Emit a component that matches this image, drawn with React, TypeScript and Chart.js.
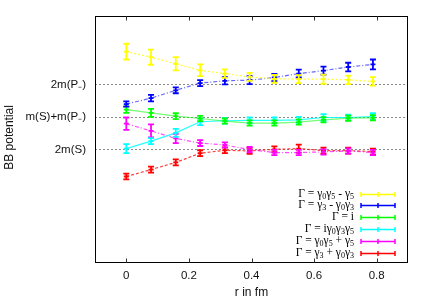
import React, { useEffect, useRef } from "react";
import { Chart, registerables } from "chart.js";

Chart.register(...registerables);

const rValues = [0, 0.079, 0.158, 0.236, 0.315, 0.394, 0.473, 0.551, 0.63, 0.709, 0.788];

const seriesLabels = [
  "Γ = γ_0γ_5 - γ_5",
  "Γ = γ_3 - γ_0γ_3",
  "Γ = i",
  "Γ = iγ_0γ_3γ_5",
  "Γ = γ_0γ_5 + γ_5",
  "Γ = γ_3 + γ_0γ_3",
];
const seriesColors = ["#ffff00", "#0000ff", "#00ff00", "#00ffff", "#ff00ff", "#ff0000"];
const lineColors = [
  "rgba(255,255,0,0.8)",
  "rgba(0,0,255,0.6)",
  "rgba(0,255,0,0.55)",
  "rgba(0,255,255,0.85)",
  "rgba(255,0,255,0.7)",
  "rgba(255,0,0,0.75)",
];
const lineDashes = [[2, 2], [4, 2, 1, 2], [], [], [4, 2, 1, 2], [3, 2]];

const yellowValues = [3.0, 2.83, 2.63, 2.43, 2.33, 2.23, 2.17, 2.16, 2.16, 2.14, 2.09];
const yellowErrors = [0.24, 0.23, 0.2, 0.18, 0.13, 0.12, 0.12, 0.12, 0.14, 0.13, 0.13];
const blueValues = [1.4, 1.58, 1.82, 2.04, 2.11, 2.13, 2.21, 2.33, 2.42, 2.53, 2.61];
const blueErrors = [0.08, 0.1, 0.09, 0.09, 0.11, 0.12, 0.11, 0.12, 0.12, 0.13, 0.15];
const greenValues = [1.23, 1.13, 1.03, 0.96, 0.88, 0.82, 0.82, 0.85, 0.92, 0.97, 0.98];
const greenErrors = [0.1, 0.12, 0.09, 0.08, 0.08, 0.08, 0.08, 0.08, 0.08, 0.08, 0.08];
const cyanValues = [0.04, 0.27, 0.52, 0.86, 0.89, 0.9, 0.9, 0.92, 0.99, 0.99, 1.02];
const cyanErrors = [0.14, 0.09, 0.12, 0.1, 0.09, 0.09, 0.09, 0.09, 0.1, 0.09, 0.1];
const magentaValues = [0.8, 0.58, 0.35, 0.21, 0.15, 0.01, -0.08, -0.08, -0.06, -0.03, -0.08];
const magentaErrors = [0.19, 0.2, 0.14, 0.09, 0.08, 0.08, 0.08, 0.08, 0.08, 0.08, 0.08];
const redValues = [-0.81, -0.6, -0.38, -0.1, -0.01, -0.03, 0.02, 0.04, -0.02, -0.02, -0.05];
const redErrors = [0.09, 0.09, 0.09, 0.09, 0.09, 0.09, 0.09, 0.12, 0.09, 0.09, 0.09];

const allValues = [yellowValues, blueValues, greenValues, cyanValues, magentaValues, redValues];
const allErrors = [yellowErrors, blueErrors, greenErrors, cyanErrors, magentaErrors, redErrors];

const yTickValues = [0, 1, 2];
const yTickLabels = ["2m(S)", "m(S)+m(P₋)", "2m(P₋)"];
const xTickValues = [0, 0.2, 0.4, 0.6, 0.8];
const xTickLabels = ["0", "0.2", "0.4", "0.6", "0.8"];
const xTitle = "r in fm";
const yTitle = "BB potential";

function parseRich(text: string) {
  const parts: { t: string; sub: boolean }[] = [];
  let buf = "";
  let i = 0;
  while (i < text.length) {
    if (text[i] === "_" && i + 1 < text.length) {
      if (buf) parts.push({ t: buf, sub: false });
      buf = "";
      parts.push({ t: text[i + 1], sub: true });
      i += 2;
    } else {
      buf += text[i];
      i++;
    }
  }
  if (buf) parts.push({ t: buf, sub: false });
  return parts;
}

const MAIN_FONT = "11.5px 'Liberation Serif', serif";
const SUB_FONT = "8px 'Liberation Serif', serif";

function drawRichRight(ctx: CanvasRenderingContext2D, text: string, xRight: number, y: number) {
  const parts = parseRich(text);
  let total = 0;
  const widths = parts.map((p) => {
    ctx.font = p.sub ? SUB_FONT : MAIN_FONT;
    const w = ctx.measureText(p.t).width;
    total += w;
    return w;
  });
  let x = xRight - total;
  parts.forEach((p, i) => {
    ctx.font = p.sub ? SUB_FONT : MAIN_FONT;
    ctx.fillText(p.t, x, p.sub ? y + 3 : y);
    x += widths[i];
  });
}

const framePlugin = {
  id: "frameAndTitles",
  beforeDatasetsDraw(chart: any) {
    const { ctx, chartArea } = chart;
    const xs = chart.scales.x;
    ctx.save();
    ctx.strokeStyle = "#000";
    ctx.lineWidth = 1;
    ctx.setLineDash([]);
    const l = Math.round(chartArea.left) + 0.5;
    const t = Math.round(chartArea.top) + 0.5;
    const r = Math.round(chartArea.right) - 0.5;
    const b = Math.round(chartArea.bottom) - 0.5;
    ctx.strokeRect(l, t, r - l, b - t);
    ctx.strokeStyle = "#333";
    xTickValues.forEach((v) => {
      const px = Math.round(xs.getPixelForValue(v)) + 0.5;
      ctx.beginPath();
      ctx.moveTo(px, b);
      ctx.lineTo(px, b - 4);
      ctx.moveTo(px, t);
      ctx.lineTo(px, t + 4);
      ctx.stroke();
    });
    ctx.restore();
  },
  afterDraw(chart: any) {
    const { ctx, chartArea } = chart;
    ctx.save();
    ctx.fillStyle = "#111";
    ctx.font = "12px 'Liberation Sans', Arial, sans-serif";
    ctx.textAlign = "center";
    ctx.textBaseline = "middle";
    ctx.fillText(xTitle, (chartArea.left + chartArea.right) / 2, 293);
    ctx.translate(10, (chartArea.top + chartArea.bottom) / 2 - 2);
    ctx.rotate(-Math.PI / 2);
    ctx.fillText(yTitle, 0, 0);
    ctx.restore();

    // legend
    ctx.save();
    ctx.textAlign = "left";
    ctx.textBaseline = "middle";
    ctx.fillStyle = "#000";
    seriesLabels.forEach((lab, i) => {
      const y = 193.5 + i * 11.9;
      drawRichRight(ctx, lab, 354, y);
      ctx.strokeStyle = seriesColors[i];
      ctx.lineWidth = 1.5;
      ctx.setLineDash([]);
      const yy = Math.round(y) + 0.5;
      ctx.beginPath();
      ctx.moveTo(361, yy);
      ctx.lineTo(395, yy);
      [361, 378, 395].forEach((x) => {
        ctx.moveTo(x, yy - 2.5);
        ctx.lineTo(x, yy + 2.5);
      });
      ctx.stroke();
    });
    ctx.restore();
  },
  afterDatasetDraw(chart: any, args: any) {
    const ds = chart.data.datasets[args.index];
    const errs: number[] = ds.errors;
    if (!errs) return;
    const { ctx } = chart;
    const xs = chart.scales.x;
    const ys = chart.scales.y;
    ctx.save();
    ctx.strokeStyle = ds.barColor;
    ctx.lineWidth = 1.8;
    ctx.setLineDash([]);
    ds.data.forEach((p: any, i: number) => {
      const px = xs.getPixelForValue(p.x);
      const top = ys.getPixelForValue(p.y + errs[i]);
      const bot = ys.getPixelForValue(p.y - errs[i]);
      const cy = ys.getPixelForValue(p.y);
      ctx.beginPath();
      ctx.moveTo(px, top);
      ctx.lineTo(px, bot);
      ctx.moveTo(px - 3, top);
      ctx.lineTo(px + 3, top);
      ctx.moveTo(px - 3, bot);
      ctx.lineTo(px + 3, bot);
      ctx.moveTo(px - 2.5, cy);
      ctx.lineTo(px + 2.5, cy);
      ctx.stroke();
    });
    ctx.restore();
  },
};

export default function App() {
  const ref = useRef<HTMLCanvasElement | null>(null);
  useEffect(() => {
    if (!ref.current) return;
    const datasets = allValues.map((vals, i) => ({
      label: seriesLabels[i],
      data: vals.map((v, j) => ({ x: rValues[j], y: v })),
      errors: allErrors[i],
      barColor: seriesColors[i],
      borderColor: lineColors[i],
      backgroundColor: seriesColors[i],
      borderWidth: 1.2,
      borderDash: lineDashes[i],
      pointRadius: 0,
      fill: false,
      tension: 0,
    }));
    const chart = new Chart(ref.current, {
      type: "line",
      data: { datasets } as any,
      options: {
        animation: false,
        responsive: false,
        layout: { padding: { top: 14, right: 22, left: 0, bottom: 0 } },
        plugins: { legend: { display: false }, tooltip: { enabled: false } },
        scales: {
          x: {
            type: "linear",
            min: -0.1,
            max: 0.9,
            afterBuildTicks: (s: any) => {
              s.ticks = xTickValues.map((v) => ({ value: v }));
            },
            afterFit: (s: any) => {
              s.height = 38;
            },
            grid: { display: false, drawTicks: false },
            border: { display: false },
            ticks: {
              padding: 6,
              color: "#111",
              font: { family: "'Liberation Sans', Arial, sans-serif", size: 11.5 },
              maxRotation: 0,
              callback: (v: any) => {
                const idx = xTickValues.indexOf(Number(v));
                return idx >= 0 ? xTickLabels[idx] : "";
              },
            },
          },
          y: {
            type: "linear",
            min: -3.45,
            max: 4.09,
            afterBuildTicks: (s: any) => {
              s.ticks = yTickValues.map((v) => ({ value: v }));
            },
            afterFit: (s: any) => {
              s.width = 95;
            },
            grid: { color: "#8a8a8a", lineWidth: 1, drawTicks: false },
            border: { display: false, dash: [2, 2] },
            ticks: {
              padding: 9,
              color: "#111",
              font: { family: "'Liberation Sans', Arial, sans-serif", size: 11.5 },
              callback: (v: any) => {
                const idx = yTickValues.indexOf(Number(v));
                return idx >= 0 ? yTickLabels[idx] : "";
              },
            },
          },
        },
      } as any,
      plugins: [framePlugin],
    });
    return () => chart.destroy();
  }, []);
  return (
    <div style={{ position: "fixed", left: 0, top: 0, width: 430, height: 301, background: "#fff" }}>
      <canvas ref={ref} width={430} height={301} style={{ display: "block" }} />
    </div>
  );
}
